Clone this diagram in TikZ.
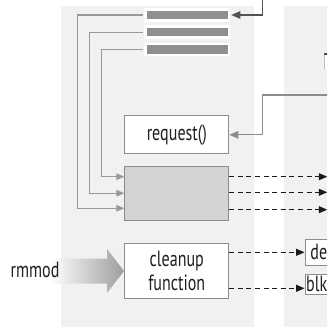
\documentclass[tikz,border=0pt]{standalone}
\usepackage{fontspec}
\setmainfont{PT Sans}[FakeStretch=0.73]
\usetikzlibrary{arrows.meta}
\definecolor{panel}{HTML}{F0F1F0}
\definecolor{barg}{HTML}{8F8F90}
\definecolor{boxg}{HTML}{D2D3D4}
\definecolor{bord}{HTML}{8C8C8C}
\definecolor{txt}{HTML}{231F20}
\begin{document}
\begin{tikzpicture}[x=1pt,y=-1pt,
  font=\fontsize{22}{24}\selectfont,
  barbox/.style={rectangle, fill=barg, draw=white, line width=2.4pt, minimum width=83.3pt, minimum height=11pt, inner sep=0pt},
  tbox/.style={rectangle, fill=white, draw=bord, line width=0.9pt, text=txt, inner sep=0pt},
  fbox/.style={tbox, minimum width=104pt, align=center},
  gline/.style={draw=black!40, line width=1.1pt, -{Triangle[length=8pt,width=6.5pt]}},
  dline/.style={draw=black!90, line width=1.05pt, dash pattern=on 5pt off 3.6pt, -{Triangle[length=8.5pt,width=7pt]}},
  dkline/.style={draw=black!68, line width=1.2pt, -{Triangle[length=9pt,width=7.5pt]}},
  rqline/.style={draw=black!45, line width=1.1pt, -{Triangle[length=9pt,width=7.5pt]}}
]
\useasboundingbox (0,0) rectangle (327,328);
\clip (0,0) rectangle (327,328);
% panels
\fill[panel] (61,6) rectangle (254,327);
\fill[panel] (284,6) rectangle (340,327);
% right sliver
\fill[white] (324,53) rectangle (340,69);
\draw[black!25, line width=0.6pt] (324.3,69) -- (324.3,53);
\draw[black!70, line width=1.5pt] (324,54) -- (340,54);
% bars
\node[barbox] (bar1) at (187.2,15) {};
\node[barbox] (bar2) at (187.2,32.2) {};
\node[barbox] (bar3) at (187.2,49.3) {};
% boxes
\node[fbox, minimum height=38pt] (request) at (176.8,134.8) {request()};
\node[fbox, minimum height=54pt, fill=boxg] (gbox) at (176.8,193.2) {};
\node[fbox, minimum height=55.6pt] (cleanup) at (176.8,271) {cleanup\\function};
\node[tbox, anchor=west, minimum height=26.5pt, inner xsep=5.5pt] (de) at (304.5,252.3) {de\hspace{14pt}};
\node[tbox, anchor=west, minimum height=20pt, inner xsep=1.2pt] (blk) at (304.5,284.3) {blk\hspace{14pt}};
% rmmod
\shade[left color=white, right color=black!38] (50,258.5) -- (107,258.5) -- (107,249) -- (124,271) -- (107,293) -- (107,283.5) -- (50,283.5) -- cycle;
\node[text=txt, inner sep=0pt] (rmmod) at (35,270) {rmmod};
% connectors from bars
\draw[gline, shorten <=1.2pt] (bar3.west) -- ++(-43.2,0) |- ([yshift=16.5pt]gbox.west);
\draw[gline, shorten <=1.2pt] (bar2.west) -- ++(-54.8,0) |- (gbox.west);
\draw[gline, shorten <=1.2pt] (bar1.west) -- ++(-67.2,0) |- ([yshift=-15.1pt]gbox.west);
% incoming arrows
\coordinate (t1) at (262.3,-2);
\draw[dkline, shorten >=1.2pt] (t1) |- (bar1.east);
\coordinate (t2) at (340,95);
\draw[rqline] (t2) -- (262.3,95) |- (request.east);
% dashed outputs
\draw[dline] ([yshift=16.5pt]gbox.east) -- ++(98,0);
\draw[dline] ([yshift=0.9pt]gbox.east) -- ++(98,0);
\draw[dline] ([yshift=-16.5pt]gbox.east) -- ++(98,0);
\draw[dline] (cleanup.east |- de.west) -- (de.west);
\draw[dline] ([yshift=-17.3pt]cleanup.east) -- ([yshift=-17.3pt]cleanup.east -| blk.west);
\end{tikzpicture}
\end{document}
